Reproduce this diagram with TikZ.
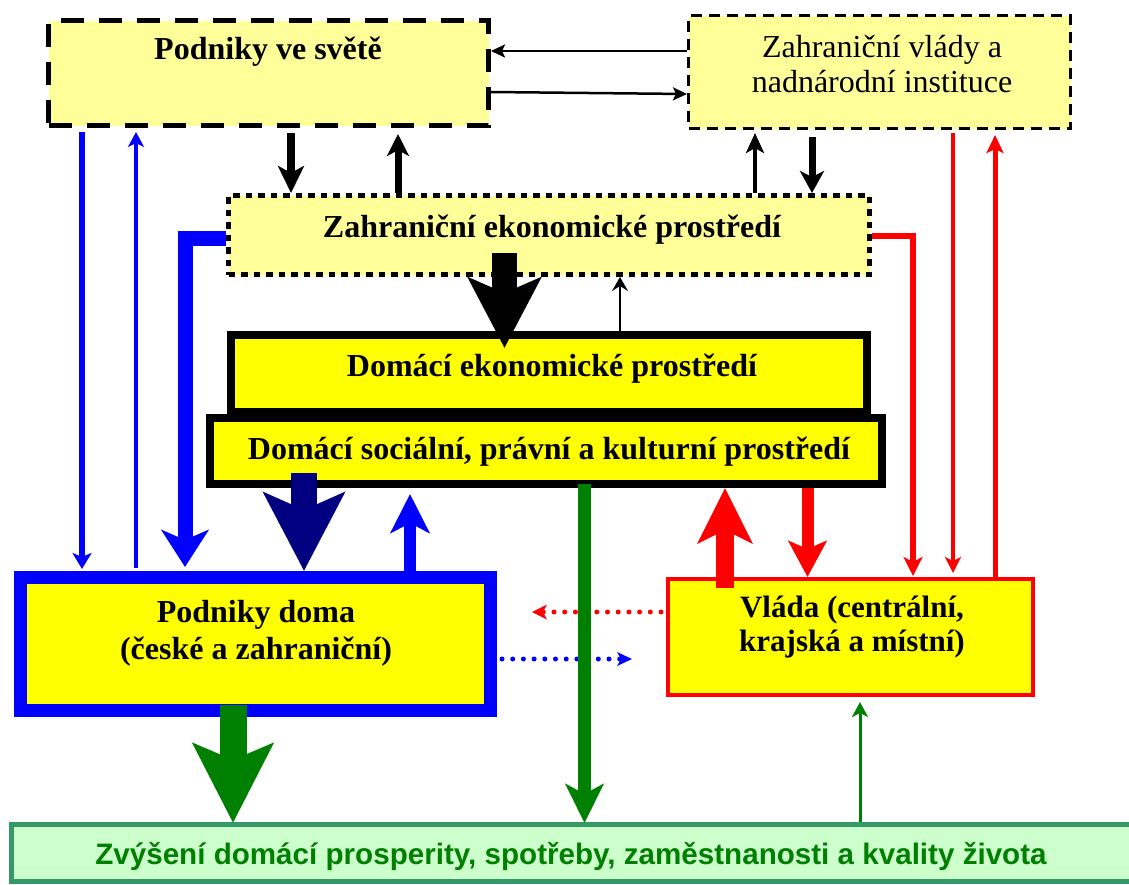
\documentclass[tikz,border=0pt]{standalone}
\usepackage{fontspec}
\setmainfont{Liberation Serif}
\newfontfamily\arialfont{Liberation Sans}
\usetikzlibrary{arrows.meta}
\definecolor{lightyel}{HTML}{FFFF99}
\definecolor{yel}{HTML}{FFFF00}
\definecolor{myblue}{HTML}{0000FF}
\definecolor{mynavy}{HTML}{000080}
\definecolor{myred}{HTML}{FF0000}
\definecolor{mygreen}{HTML}{008000}
\definecolor{boxgreen}{HTML}{339966}
\definecolor{palegreen}{HTML}{CCFFCC}
\tikzset{
  box/.style={rectangle, inner sep=0pt},
  lbl/.style={inner sep=0pt, align=center, font=\fontsize{32}{36}\selectfont\bfseries},
  dotline/.style={line width=5pt, line cap=round, dash pattern=on 0pt off 10.7pt},
}
\begin{document}
\begin{tikzpicture}[x=1pt,y=-1pt]
\useasboundingbox (0,0) rectangle (1129,884);
\begin{scope}
\clip (0,0) rectangle (1129,884);
% boxes
\node[box, draw=black, line width=5pt, dash pattern=on 23pt off 15pt, fill=lightyel,
  minimum width=440pt, minimum height=105pt] (A) at (268.5,73) {};
\node[box, draw=black, line width=3pt, dash pattern=on 11pt off 7pt, fill=lightyel,
  minimum width=382pt, minimum height=113pt] (B) at (879.5,72) {};
\node[box, draw=black, line width=5pt, dash pattern=on 6.5pt off 6pt, fill=lightyel,
  minimum width=641pt, minimum height=79pt] (C) at (549,235) {};
\node[box, draw=black, line width=8pt, fill=yel,
  minimum width=636pt, minimum height=77pt] (D) at (549,373.5) {};
\node[box, draw=black, line width=8pt, fill=yel,
  minimum width=672pt, minimum height=66pt] (E) at (546,451) {};
\node[box, draw=myblue, line width=13pt, fill=yel,
  minimum width=470pt, minimum height=133pt] (F) at (255.5,644) {};
\node[box, draw=myred, line width=4pt, fill=yel,
  minimum width=365pt, minimum height=116pt] (G) at (850.5,637) {};
\node[box, draw=boxgreen, line width=5pt, fill=palegreen,
  minimum width=1135pt, minimum height=57pt] (H) at (579,853) {};
\end{scope}
% texts
\node[lbl] (tA) at (268,52) {Podniky ve světě};
\node[lbl, font=\fontsize{32}{35}\selectfont] (tB) at (882,64) {Zahraniční vlády a\\nadnárodní instituce};
\node[lbl] (tC) at (552,230) {Zahraniční ekonomické prostředí};
\node[lbl] (tD) at (552,369) {Domácí ekonomické prostředí};
\node[lbl] (tE) at (549,452) {Domácí sociální, právní a kulturní prostředí};
\node[lbl, font=\fontsize{32}{37}\selectfont\bfseries] (tF) at (256,633) {Podniky doma\\(české a zahraniční)};
\node[lbl, font=\fontsize{31}{34}\selectfont\bfseries] (tG) at (852,627) {Vláda (centrální,\\krajská a místní)};
\node[inner sep=0pt, text=mygreen, font=\arialfont\fontsize{29.6}{32}\selectfont\bfseries] (tH) at (571,857)
  {Zvýšení domácí prosperity, spotřeby, zaměstnanosti a kvality života};
% free ends of dotted arrows
\coordinate (rdEnd) at (532,612);
\coordinate (bdEnd) at (632,659);
% dotted arrows
\draw[myred, dotline, -{Stealth[length=15pt,width=15pt,inset=4pt,line cap=butt,line width=0pt]}]
  ([xshift=-5pt]G.west |- 0,612) -- (rdEnd);
\draw[myblue, dotline, -{Stealth[length=15pt,width=14pt,inset=4pt,line cap=butt,line width=0pt]}]
  ([xshift=5pt]F.east |- 0,659) -- (bdEnd);
% A <-> B
\draw[black, line width=2.5pt, -{Stealth[length=14pt,width=13pt,inset=3pt]}]
  (B.west |- 0,51) -- (A.east |- 0,51);
\draw[black, line width=2.5pt, -{Stealth[length=14pt,width=13pt,inset=3pt]}]
  (A.east |- 0,92) -- (B.west |- 0,94);
% A <-> C
\draw[black, line width=8pt, -{Stealth[length=27pt,width=26pt,inset=7pt]}]
  ([yshift=-5pt]A.south -| 291,0) -- (C.north -| 291,0);
\draw[black, line width=7pt, -{Stealth[length=22pt,width=22pt,inset=6pt]}]
  (C.north -| 398,0) -- ([yshift=-6pt]A.south -| 398,0);
% B <-> C
\draw[black, line width=4.5pt, -{Stealth[length=20pt,width=18pt,inset=5pt]}]
  (C.north -| 755,0) -- ([yshift=-3pt]B.south -| 755,0);
\draw[black, line width=7pt, -{Stealth[length=22pt,width=24pt,inset=6pt]}]
  ([yshift=-7pt]B.south -| 812,0) -- (C.north -| 812,0);
% C <-> D
\draw[black, line width=25pt, -{Stealth[length=70pt,width=72pt,inset=15pt]}]
  ([yshift=24pt]C.south -| 504.5,0) -- ([yshift=-17pt]D.north -| 504.5,0);
\draw[black, line width=2pt, -{Stealth[length=14pt,width=16pt,inset=5pt]}]
  (D.north -| 620,0) -- (C.south -| 620,0);
% blue arrows
\draw[myblue, line width=5.5pt, -{Stealth[length=16pt,width=19pt,inset=4pt]}]
  ([yshift=-4pt]A.south -| 82,0) -- ([yshift=2pt]F.north -| 82,0);
\draw[myblue, line width=3.5pt, -{Stealth[length=15pt,width=16pt,inset=4pt]}]
  ([yshift=3pt]F.north -| 136,0) -- ([yshift=-4pt]A.south -| 136,0);
\draw[myblue, line width=15pt, line join=miter, -{Stealth[length=37pt,width=47pt,inset=10pt]}]
  (C.west |- 0,238) -- (185,238) -- ([yshift=4pt]F.north -| 185,0);
\draw[mynavy, line width=26pt, -{Stealth[length=78pt,width=80pt,inset=17pt]}]
  ([yshift=15pt]E.south -| 304,0) -- (F.north -| 304,0);
\draw[myblue, line width=12pt, -{Stealth[length=39pt,width=39pt,inset=10pt]}]
  ([yshift=-1pt]F.north -| 410,0) -- ([yshift=-6pt]E.south -| 410,0);
% green arrows
\draw[mygreen, line width=13pt, -{Stealth[length=39pt,width=38pt,inset=10pt]}]
  ([yshift=4pt]E.south -| 584.5,0) -- ([yshift=-1pt]H.north -| 584.5,0);
\draw[mygreen, line width=27pt, -{Stealth[length=79pt,width=79pt,inset=16pt]}]
  ([yshift=12pt]F.south -| 233,0) -- ([yshift=-1pt]H.north -| 233,0);
\draw[mygreen, line width=3pt, -{Stealth[length=15pt,width=16pt,inset=4pt]}]
  (H.north -| 860,0) -- ([yshift=-5pt]G.south -| 860,0);
% red arrows
\draw[myred, line width=18pt, -{Stealth[length=55pt,width=54pt,inset=13pt]}]
  ([yshift=-11pt]G.north -| 725,0) -- (E.south -| 725,0);
\draw[myred, line width=12pt, -{Stealth[length=36pt,width=38pt,inset=8pt]}]
  (E.south -| 807.5,0) -- (G.north -| 807.5,0);
\draw[myred, line width=5.5pt, line join=miter, -{Stealth[length=19pt,width=19pt,inset=5pt]}]
  (C.east |- 0,236) -- (913,236) -- ([yshift=1pt]G.north -| 913,0);
\draw[myred, line width=4pt, -{Stealth[length=16pt,width=16pt,inset=4pt]}]
  ([yshift=-3pt]B.south -| 953,0) -- ([yshift=4pt]G.north -| 953,0);
\draw[myred, line width=5pt, -{Stealth[length=18pt,width=17pt,inset=4pt]}]
  (G.north -| 995,0) -- ([yshift=-5pt]B.south -| 995,0);
\end{tikzpicture}
\end{document}
